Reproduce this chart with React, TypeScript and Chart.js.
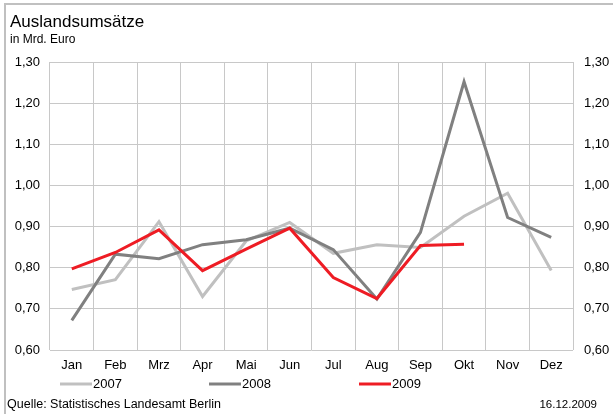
import React, { useEffect, useRef } from "react";
import { Chart, registerables } from "chart.js";

Chart.register(...registerables);

const months = ["Jan", "Feb", "Mrz", "Apr", "Mai", "Jun", "Jul", "Aug", "Sep", "Okt", "Nov", "Dez"];
const values2007 = [0.747, 0.771, 0.912, 0.73, 0.865, 0.91, 0.835, 0.856, 0.849, 0.925, 0.981, 0.793];
const values2008 = [0.672, 0.833, 0.822, 0.856, 0.868, 0.896, 0.844, 0.724, 0.886, 1.252, 0.922, 0.874];
const values2009 = [0.797, 0.837, 0.892, 0.793, 0.845, 0.896, 0.776, 0.725, 0.854, 0.857, null, null];
const seriesLabels = ["2007", "2008", "2009"];
const titleText = "Auslandsumsätze";
const subtitleText = "in Mrd. Euro";
const sourceText = "Quelle: Statistisches Landesamt Berlin";
const dateText = "16.12.2009";
const yMin = 0.6;
const yMax = 1.3;
const yStep = 0.1;

const FONT = "'Liberation Sans', Arial, sans-serif";
const COLORS = ["#c0c0c0", "#808080", "#ee1c24"];

const fmt = (v: number) => v.toFixed(2).replace(".", ",");

const decorPlugin = {
  id: "decor",
  afterDraw(chart: any) {
    const ctx = chart.ctx as CanvasRenderingContext2D;
    ctx.save();
    // frame lines top & left
    ctx.fillStyle = "#c0c0c0";
    ctx.fillRect(4, 3, 609, 2);
    ctx.fillRect(4, 3, 2, 411);

    ctx.fillStyle = "#000";
    ctx.textAlign = "left";
    ctx.textBaseline = "alphabetic";
    ctx.font = `17px ${FONT}`;
    ctx.fillText(titleText, 10, 27);
    ctx.font = `12px ${FONT}`;
    ctx.fillText(subtitleText, 10, 43);

    // legend
    const legendX = [60, 209, 359];
    const legendY = 384;
    ctx.font = `13px ${FONT}`;
    ctx.textBaseline = "middle";
    seriesLabels.forEach((lab, i) => {
      ctx.strokeStyle = COLORS[i];
      ctx.lineWidth = 3;
      ctx.beginPath();
      ctx.moveTo(legendX[i], legendY);
      ctx.lineTo(legendX[i] + 32, legendY);
      ctx.stroke();
      ctx.fillStyle = "#000";
      ctx.fillText(lab, legendX[i] + 33, legendY + 0.5);
    });

    // footer
    ctx.font = `12.5px ${FONT}`;
    ctx.fillText(sourceText, 7, 405);
    ctx.font = `11.5px ${FONT}`;
    ctx.textAlign = "right";
    ctx.fillText(dateText, 597, 405);
    ctx.restore();
  },
};

export default function App() {
  const ref = useRef<HTMLCanvasElement>(null);
  useEffect(() => {
    if (!ref.current) return;
    const tickFont = { family: FONT, size: 13 };
    const chart = new Chart(ref.current, {
      type: "line",
      data: {
        labels: months,
        datasets: [
          { label: seriesLabels[0], data: values2007, borderColor: COLORS[0], order: 2 },
          { label: seriesLabels[1], data: values2008, borderColor: COLORS[1], order: 1 },
          { label: seriesLabels[2], data: values2009, borderColor: COLORS[2], order: 0 },
        ].map((d) => ({
          ...d,
          borderWidth: 3,
          pointRadius: 0,
          tension: 0,
          fill: false,
          spanGaps: false,
        })),
      },
      options: {
        animation: false,
        responsive: false,
        devicePixelRatio: 1,
        layout: { padding: { top: 62, left: 0, right: 0, bottom: 0 } },
        plugins: {
          legend: { display: false },
          tooltip: { enabled: false },
          title: { display: false },
        },
        scales: {
          x: {
            type: "category",
            offset: true,
            grid: { color: "#c8c8c8", lineWidth: 1, drawTicks: false, offset: true },
            border: { display: false },
            ticks: { color: "#000", font: tickFont, padding: 8, maxRotation: 0, autoSkip: false },
            afterFit: (s: any) => {
              s.height = 69;
            },
          },
          y: {
            position: "left",
            min: yMin,
            max: yMax,
            grid: { color: "#c8c8c8", lineWidth: 1, drawTicks: false },
            border: { display: false },
            ticks: { stepSize: yStep, color: "#000", font: tickFont, padding: 10, callback: (v: any) => fmt(Number(v)) },
            afterFit: (s: any) => {
              s.width = 50;
            },
          },
          y2: {
            position: "right",
            min: yMin,
            max: yMax,
            grid: { display: false, drawTicks: false },
            border: { display: false },
            ticks: { stepSize: yStep, color: "#000", font: tickFont, padding: 11, callback: (v: any) => fmt(Number(v)) },
            afterFit: (s: any) => {
              s.width = 40;
            },
          },
        },
      },
      plugins: [decorPlugin],
    } as any);
    return () => chart.destroy();
  }, []);
  return (
    <div style={{ position: "absolute", left: 0, top: 0, width: 613, height: 419, background: "#fff" }}>
      <canvas ref={ref} width={613} height={419} style={{ width: 613, height: 419, display: "block" }} />
    </div>
  );
}
